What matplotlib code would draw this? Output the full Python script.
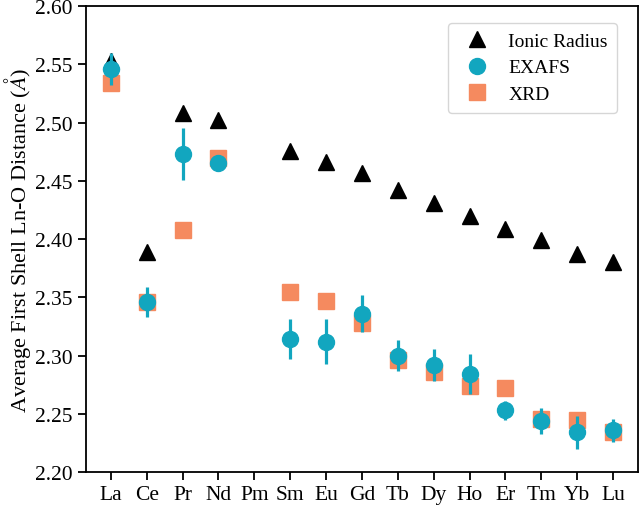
import matplotlib
matplotlib.use("Agg")
import matplotlib.pyplot as plt
from matplotlib.lines import Line2D

plt.rcParams['font.family'] = ['Liberation Serif', 'DejaVu Serif']
plt.rcParams['mathtext.fontset'] = 'stix'

elements = ['La', 'Ce', 'Pr', 'Nd', 'Pm', 'Sm', 'Eu', 'Gd', 'Tb', 'Dy', 'Ho', 'Er', 'Tm', 'Yb', 'Lu']

# ionic radius based distances (no Pm)
ionic = [2.553, 2.389, 2.508, 2.502, None, 2.476, 2.466, 2.457, 2.442, 2.431, 2.420, 2.409, 2.399, 2.387, 2.380]
# EXAFS with error bars
exafs = [2.546, 2.346, 2.473, 2.465, None, 2.314, 2.312, 2.336, 2.300, 2.292, 2.284, 2.253, 2.244, 2.234, 2.236]
exafs_err = [0.014, 0.013, 0.022, 0.003, None, 0.017, 0.019, 0.016, 0.013, 0.014, 0.017, 0.008, 0.011, 0.014, 0.010]
# XRD
xrd = [2.534, 2.346, 2.408, 2.470, None, 2.355, 2.347, 2.328, 2.296, 2.286, 2.274, 2.272, 2.246, 2.245, 2.234]

teal = '#12a6bf'
salmon = '#f58a5f'

def pick(vals):
    xs = [i for i, v in enumerate(vals) if v is not None]
    return xs, [vals[i] for i in xs]

fig = plt.figure(figsize=(6.4, 5.06), dpi=100)
ax = fig.add_axes([0.134, 0.065, 0.863, 0.921])

xi, yi = pick(ionic)
ax.plot(xi, yi, '^', color='black', ms=11.5, ls='none', zorder=2)
xx, yx = pick(xrd)
ax.plot(xx, yx, 's', color=salmon, ms=11.5, ls='none', zorder=3)
xe, ye = pick(exafs)
ee = [exafs_err[i] for i in xe]
ax.errorbar(xe, ye, yerr=ee, fmt='o', color=teal, ms=11.5, elinewidth=2.3,
            capsize=0, zorder=4)

ax.set_xlim(-0.7, 14.7)
ax.set_ylim(2.20, 2.60)
ax.set_xticks(range(len(elements)))
ax.set_xticklabels(elements)
ax.set_yticks([2.20, 2.25, 2.30, 2.35, 2.40, 2.45, 2.50, 2.55, 2.60])
ax.set_yticklabels(['2.20', '2.25', '2.30', '2.35', '2.40', '2.45', '2.50', '2.55', '2.60'])
ax.tick_params(labelsize=15.5, length=6, width=1.3, direction='out')
for s in ax.spines.values():
    s.set_linewidth(1.3)
ax.set_ylabel('Average First Shell Ln-O Distance ($\\mathit{\\AA}$)', fontsize=16, labelpad=1.5)

handles = [
    Line2D([], [], marker='^', color='black', ls='none', ms=11.5),
    Line2D([], [], marker='o', color=teal, ls='none', ms=11.5),
    Line2D([], [], marker='s', color=salmon, ls='none', ms=11.5),
]
leg = ax.legend(handles, ['Ionic Radius', 'EXAFS', 'XRD'],
                loc='upper right', fontsize=14, frameon=True, handletextpad=0.6,
                borderpad=0.5, labelspacing=0.45, bbox_to_anchor=(0.98, 0.985))
leg.get_frame().set_edgecolor('#cccccc')

fig.savefig('out.png', dpi=100)
